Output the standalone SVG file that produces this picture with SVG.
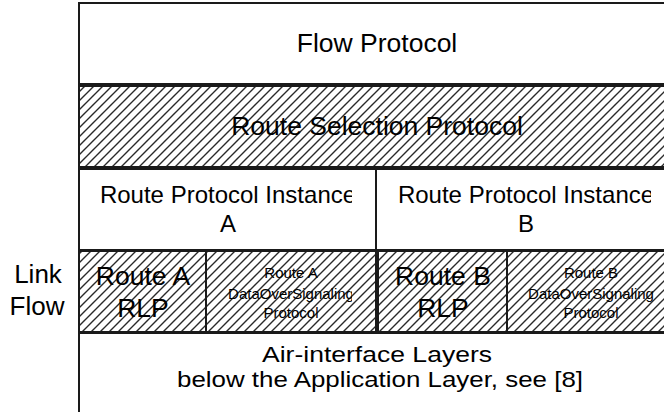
<svg xmlns="http://www.w3.org/2000/svg" width="664" height="412" viewBox="0 0 664 412">
  <defs>
    <pattern id="hatch" patternUnits="userSpaceOnUse" width="9" height="9">
      <path d="M-2,2 L2,-2 M0,9 L9,0 M7,11 L11,7" stroke="#2a2a2a" stroke-width="1.4"/>
    </pattern>
    <clipPath id="clipInstA"><rect x="99" y="170" width="253" height="80"/></clipPath>
    <clipPath id="clipInstB"><rect x="398" y="170" width="253" height="80"/></clipPath>
    <clipPath id="clipDosA"><rect x="225" y="252" width="127" height="80"/></clipPath>
    <clipPath id="clipDosB"><rect x="524" y="252" width="130" height="80"/></clipPath>
  </defs>
  <style>
    .box { fill: #ffffff; stroke: #1a1a1a; stroke-width: 2; }
    .hatched { fill: url(#hatch); stroke: #1a1a1a; stroke-width: 2; }
    text { font-family: "Liberation Sans", Arial, sans-serif; fill: #000000; text-anchor: middle; }
    .big { font-size: 26.5px; }
    .mid { font-size: 24px; }
    .side { font-size: 26px; }
    .air { font-size: 21.5px; }
    .small { font-size: 15px; }
  </style>

  <g id="flow-protocol">
    <rect class="box" x="79" y="3" width="600" height="81"/>
    <text class="big" x="377" y="52">Flow Protocol</text>
  </g>

  <g id="route-selection-protocol">
    <rect class="hatched" x="79" y="86" width="600" height="81"/>
    <text class="big" x="377" y="135">Route Selection Protocol</text>
  </g>

  <g id="route-protocol-instance-a">
    <rect class="box" x="79" y="169" width="297" height="81"/>
    <g clip-path="url(#clipInstA)">
      <text class="mid" x="228" y="203">Route Protocol Instance</text>
      <text class="mid" x="228" y="232">A</text>
    </g>
  </g>

  <g id="route-protocol-instance-b">
    <rect class="box" x="376" y="169" width="303" height="81"/>
    <g clip-path="url(#clipInstB)">
      <text class="mid" x="526" y="203">Route Protocol Instance</text>
      <text class="mid" x="526" y="232">B</text>
    </g>
  </g>

  <g id="link-flow-label">
    <text class="side" x="38" y="283">Link</text>
    <text class="side" x="37" y="315">Flow</text>
  </g>

  <g id="route-a-rlp">
    <rect class="hatched" x="79" y="251" width="127" height="81"/>
    <text class="big" x="143" y="285">Route A</text>
    <text class="big" x="143" y="317">RLP</text>
  </g>

  <g id="route-a-dos">
    <rect class="hatched" x="206" y="251" width="170" height="81"/>
    <g clip-path="url(#clipDosA)">
      <text class="small" x="291" y="278">Route A</text>
      <text class="small" x="291" y="299">DataOverSignaling</text>
      <text class="small" x="291" y="318">Protocol</text>
    </g>
  </g>

  <g id="route-b-rlp">
    <rect class="hatched" x="378" y="251" width="129" height="81"/>
    <text class="big" x="443" y="285">Route B</text>
    <text class="big" x="443" y="317">RLP</text>
  </g>

  <g id="route-b-dos">
    <rect class="hatched" x="507" y="251" width="172" height="81"/>
    <g clip-path="url(#clipDosB)">
      <text class="small" x="591" y="278">Route B</text>
      <text class="small" x="591" y="299">DataOverSignaling</text>
      <text class="small" x="591" y="318">Protocol</text>
    </g>
  </g>

  <g id="air-interface-layers">
    <rect class="box" x="79" y="333" width="600" height="100"/>
    <text class="air" x="377" y="362" textLength="230" lengthAdjust="spacingAndGlyphs">Air-interface Layers</text>
    <text class="air" x="380" y="387" textLength="406" lengthAdjust="spacingAndGlyphs">below the Application Layer, see [8]</text>
  </g>

  <g id="connectors"/>
</svg>
